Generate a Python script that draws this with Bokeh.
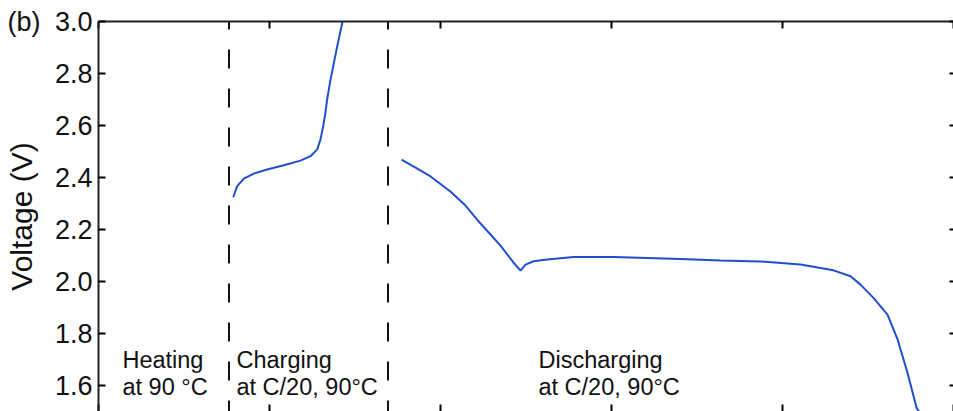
from bokeh.plotting import figure
from bokeh.models import LinearAxis, FixedTicker, ColumnDataSource, PrintfTickFormatter, CustomJSTickFormatter
from bokeh.core.properties import value
from bokeh.embed import file_html
from bokeh.resources import INLINE

# ---- data (time in arbitrary units, voltage in V) ----
charge_t = [7.88, 8.11, 8.50, 9.08, 9.86, 10.84, 11.81, 12.40, 12.79, 12.98, 13.14, 13.27, 13.37, 13.57, 13.92, 14.27]
charge_v = [2.324, 2.367, 2.396, 2.415, 2.431, 2.447, 2.465, 2.482, 2.508, 2.546, 2.597, 2.649, 2.700, 2.777, 2.892, 3.000]

dis_t = [17.72, 18.54, 19.42, 20.58, 21.46, 22.34, 23.51, 24.27, 24.68, 24.97, 25.44, 26.26, 27.78, 30.12,
         34.04, 36.37, 38.71, 41.05, 42.98, 43.98, 44.56, 45.32, 46.14, 46.73, 47.31, 47.84, 47.98]
dis_v = [2.469, 2.438, 2.404, 2.346, 2.292, 2.223, 2.138, 2.073, 2.042, 2.065, 2.078, 2.085, 2.094, 2.094,
         2.087, 2.081, 2.077, 2.065, 2.043, 2.020, 1.988, 1.937, 1.873, 1.777, 1.649, 1.514, 1.500]

phase_bounds = [7.63, 16.93]

y_ticks = [1.6, 1.8, 2.0, 2.2, 2.4, 2.6, 2.8, 3.0]
x_ticks = [0, 10, 20, 30, 40, 50]
panel_tag_at = [3.0]

ann_x = [1.40, 1.40, 8.07, 8.07, 25.73, 25.73]
ann_y = [1.700, 1.596, 1.700, 1.596, 1.700, 1.596]
ann_text = ["Heating", "at 90 \u00b0C", "Charging", "at C/20, 90\u00b0C", "Discharging", "at C/20, 90\u00b0C"]

FONT = "Liberation Sans"
BLUE = "#1f4fcf"
INK = "#111111"

p = figure(width=953, height=411, x_range=(0, 50), y_range=(1.5, 3.0),
           output_backend="svg", toolbar_location=None,
           min_border_left=98, min_border_top=21, min_border_right=0, min_border_bottom=0,
           outline_line_color=None, background_fill_color="white", border_fill_color="white")
p.xgrid.visible = False
p.ygrid.visible = False

# bottom axis (main x axis): ticks only
xa = p.xaxis[0]
xa.ticker = FixedTicker(ticks=x_ticks)
xa.axis_line_color = None
xa.major_tick_in = 7
xa.major_tick_out = 0
xa.major_tick_line_width = 2
xa.minor_tick_line_color = None
xa.formatter = CustomJSTickFormatter(code="return ''")
xa.major_label_standoff = 0

# top axis: line + inward ticks
tx = LinearAxis(ticker=FixedTicker(ticks=x_ticks), axis_line_width=2, axis_line_color="#222222",
                major_tick_in=7, major_tick_out=0, major_tick_line_width=2,
                minor_tick_line_color=None, formatter=CustomJSTickFormatter(code="return ''"),
                major_label_standoff=0)
p.add_layout(tx, "above")

# left axis: tick labels
ya = p.yaxis[0]
ya.ticker = FixedTicker(ticks=y_ticks)
ya.formatter = PrintfTickFormatter(format="%.1f")
ya.axis_line_width = 2
ya.axis_line_color = "#222222"
ya.major_tick_in = 7
ya.major_tick_out = 0
ya.major_tick_line_width = 2
ya.minor_tick_line_color = None
ya.major_label_text_font = FONT
ya.major_label_text_font_size = "27px"
ya.major_label_text_color = INK
ya.major_label_standoff = 6

# outer left axis: panel tag "(b)" and the axis title
oy = LinearAxis(ticker=FixedTicker(ticks=panel_tag_at),
                formatter=CustomJSTickFormatter(code="return '(b)'"),
                axis_line_color=None, major_tick_line_color=None, minor_tick_line_color=None,
                major_tick_in=0, major_tick_out=0, major_label_standoff=11,
                major_label_text_font=FONT, major_label_text_font_size="27px",
                major_label_text_color=INK,
                axis_label="Voltage (V)", axis_label_text_font=FONT,
                axis_label_text_font_style="normal", axis_label_text_font_size="30px",
                axis_label_text_color=INK, axis_label_standoff=-33)
p.add_layout(oy, "left")

# right axis: ticks only
ry = LinearAxis(ticker=FixedTicker(ticks=y_ticks), axis_line_color=None,
                major_tick_in=4, major_tick_out=0, major_tick_line_width=2,
                minor_tick_line_color=None, formatter=CustomJSTickFormatter(code="return ''"),
                major_label_standoff=0)
p.add_layout(ry, "right")

# phase separators
for xb in phase_bounds:
    p.line([xb, xb], [3.0, 1.5], line_color=INK, line_width=2,
           line_dash="19 20", line_dash_offset=11)

# curves
p.line(charge_t, charge_v, line_color=BLUE, line_width=2)
p.line(dis_t, dis_v, line_color=BLUE, line_width=2)

# annotations
src = ColumnDataSource(dict(x=ann_x, y=ann_y, t=ann_text))
p.text(x="x", y="y", text="t", source=src, text_font=value(FONT),
       text_font_size="23.5px", text_baseline="middle", text_align="left",
       text_color=INK)

open("out.html", "w").write(file_html(p, INLINE))
